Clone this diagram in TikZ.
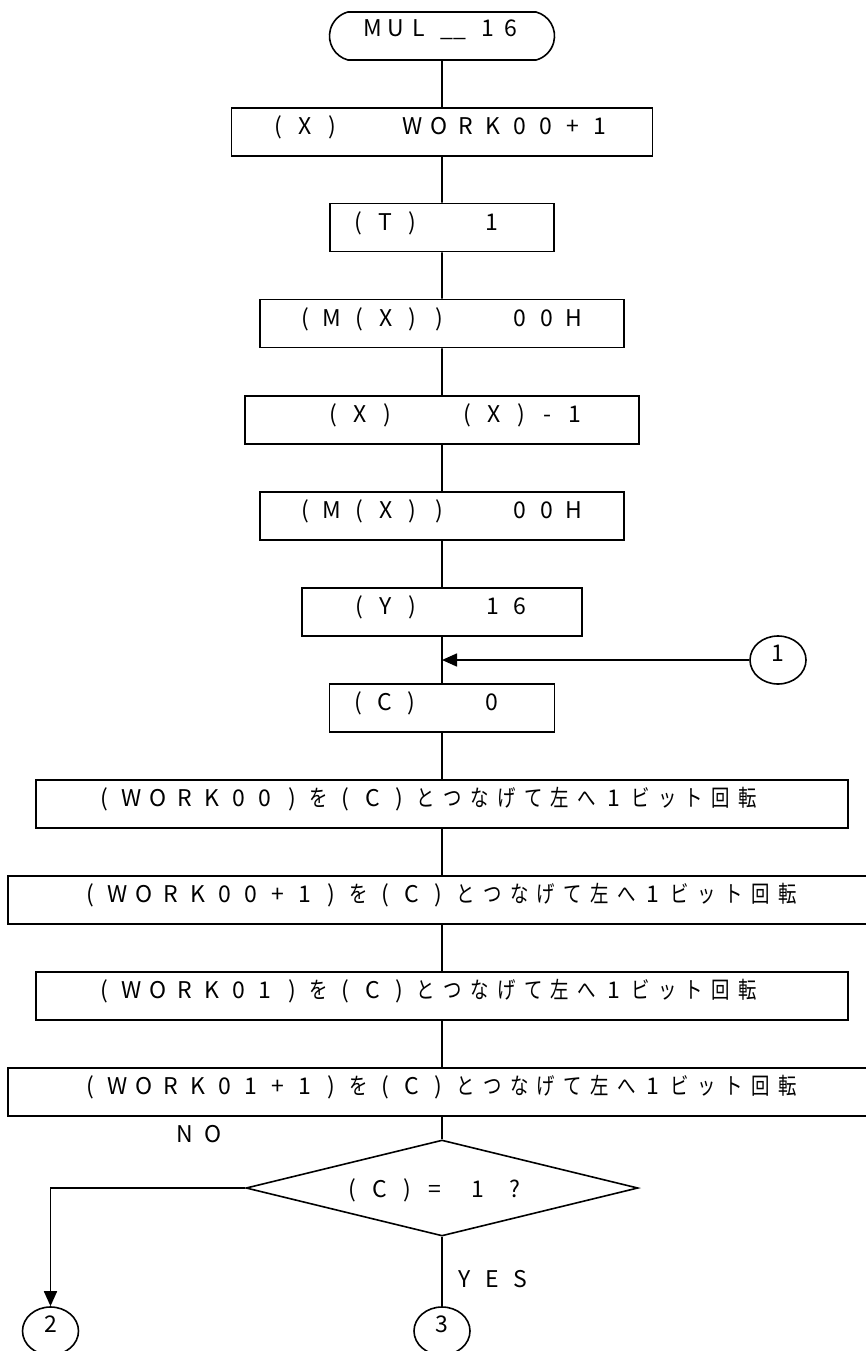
\documentclass[tikz,border=0pt]{standalone}
\usepackage{fontspec}
\setmainfont{Noto Sans CJK JP}
\newfontfamily\cjkfont[FakeStretch=0.8]{Noto Sans CJK JP}
\usetikzlibrary{shapes.geometric,shapes.misc,arrows.meta}
\newlength\cellw
\setlength\cellw{26.8pt}
\makeatletter
\def\cellseq#1{\cellseq@a#1\relax}
\def\cellseq@a#1{\ifx#1\relax\else\makebox[\cellw][c]{#1}\expandafter\cellseq@a\fi}
\def\cjkseq#1{\cjkseq@a#1\relax}
\def\cjkseq@a#1{\ifx#1\relax\else\makebox[\cellw][c]{\cjkfont #1}\expandafter\cjkseq@a\fi}
\makeatother
\newcommand\fcfont{\fontsize{23pt}{25pt}\selectfont}
\newcommand\rotline[1]{\cellseq{#1}\cjkseq{を}\cellseq{(C)}\cjkseq{とつなげて左へ}\cellseq{1}\cjkseq{ビット回転}}
\tikzset{
  conline/.style={line width=1.6pt},
  procbox/.style={draw, line width=1.6pt, rectangle, inner sep=0pt,
    minimum height=48pt, text height=10pt, text depth=5pt, font=\fcfont},
  termbox/.style={draw, line width=1.6pt, rounded rectangle,
    rounded rectangle arc length=150, inner sep=0pt, minimum width=225pt,
    minimum height=48pt, text height=6pt, text depth=4pt, font=\fcfont},
  decbox/.style={draw, line width=1.6pt, diamond, aspect=4, inner sep=0pt,
    minimum width=392pt, minimum height=96pt, text height=18pt,
    text depth=0pt, font=\fcfont},
  connbox/.style={draw, line width=1.6pt, ellipse, inner sep=0pt,
    minimum width=56pt, minimum height=48pt, text height=5.4pt,
    text depth=2pt, font=\fcfont},
  lbl/.style={inner sep=0pt, anchor=base, font=\fcfont},
  arrowtip/.style={-{Triangle[length=15pt,width=13pt]}}
}
\begin{document}
\begin{tikzpicture}[x=1pt,y=-1pt]
\fill[white] (0,0) rectangle (866,1351);
\useasboundingbox (0,0) rectangle (866,1351);

\node[termbox] (t) at (442,36)
  {\setlength\cellw{23pt}\cellseq{MUL}\makebox[2\cellw][c]{\_\_}\cellseq{16}\hspace{8pt}};

\node[procbox, minimum width=421pt] (b1) at (442,132)
  {\makebox[421pt][l]{\hspace{33.4pt}\cellseq{(X)~~WORK00+1}}};
\node[procbox, minimum width=224pt] (b2) at (442,227.5)
  {\makebox[224pt][l]{\hspace{14.9pt}\cellseq{(T)~~1}}};
\node[procbox, minimum width=364pt] (b3) at (442,323.5)
  {\makebox[364pt][l]{\hspace{32pt}\cellseq{(M(X))~~00H}}};
\node[procbox, minimum width=394pt] (b4) at (442,420)
  {\makebox[394pt][l]{\hspace{74.9pt}\cellseq{(X)~~(X)-1}}};
\node[procbox, minimum width=364pt] (b5) at (442,516)
  {\makebox[364pt][l]{\hspace{32pt}\cellseq{(M(X))~~00H}}};
\node[procbox, minimum width=280pt] (b6) at (442,612)
  {\makebox[280pt][l]{\hspace{43.6pt}\cellseq{(Y)~~16}}};
\node[connbox] (c1) at (778,660) {1\hspace{12.8pt}};
\node[procbox, minimum width=225pt] (b7) at (442,708)
  {\makebox[225pt][l]{\hspace{15.3pt}\cellseq{(C)~~0}}};
\node[procbox, minimum width=812pt] (b8) at (442,804)
  {\makebox[812pt][l]{\hspace{55.1pt}\rotline{(WORK00)}}};
\node[procbox, minimum width=868pt] (b9) at (442,900)
  {\makebox[868pt][l]{\hspace{69pt}\rotline{(WORK00+1)}}};
\node[procbox, minimum width=812pt] (b10) at (442,996)
  {\makebox[812pt][l]{\hspace{55.1pt}\rotline{(WORK01)}}};
\node[procbox, minimum width=868pt] (b11) at (442,1092)
  {\makebox[868pt][l]{\hspace{69pt}\rotline{(WORK01+1)}}};

\node[decbox] (d) at (442,1188)
  {\makebox[206pt][l]{\setlength\cellw{27.5pt}\cellseq{(C)=}\hspace{15pt}\cellseq{1}\hspace{10pt}\cellseq{?}}};
\node[lbl] (no) at (199,1142) {\setlength\cellw{27.7pt}\cellseq{NO}};
\node[lbl] (yes) at (492.4,1287) {\setlength\cellw{27.7pt}\cellseq{YES}};

\node[connbox] (c2) at (50.5,1331) {2};
\node[connbox] (c3) at (442,1331) {3\hspace{8pt}};

\coordinate (j1) at (c1 -| b6.south);

\draw[conline] (t) -- (b1) (b1) -- (b2) (b2) -- (b3) (b3) -- (b4)
  (b4) -- (b5) (b5) -- (b6) (b6) -- (b7) (b7) -- (b8) (b8) -- (b9)
  (b9) -- (b10) (b10) -- (b11) (b11) -- (d);
\draw[conline, arrowtip] (c1) -- (j1);
\draw[conline, arrowtip] (d.west) -| (c2.north);
\draw[conline] (d.south) -- (c3.north);
\end{tikzpicture}
\end{document}
